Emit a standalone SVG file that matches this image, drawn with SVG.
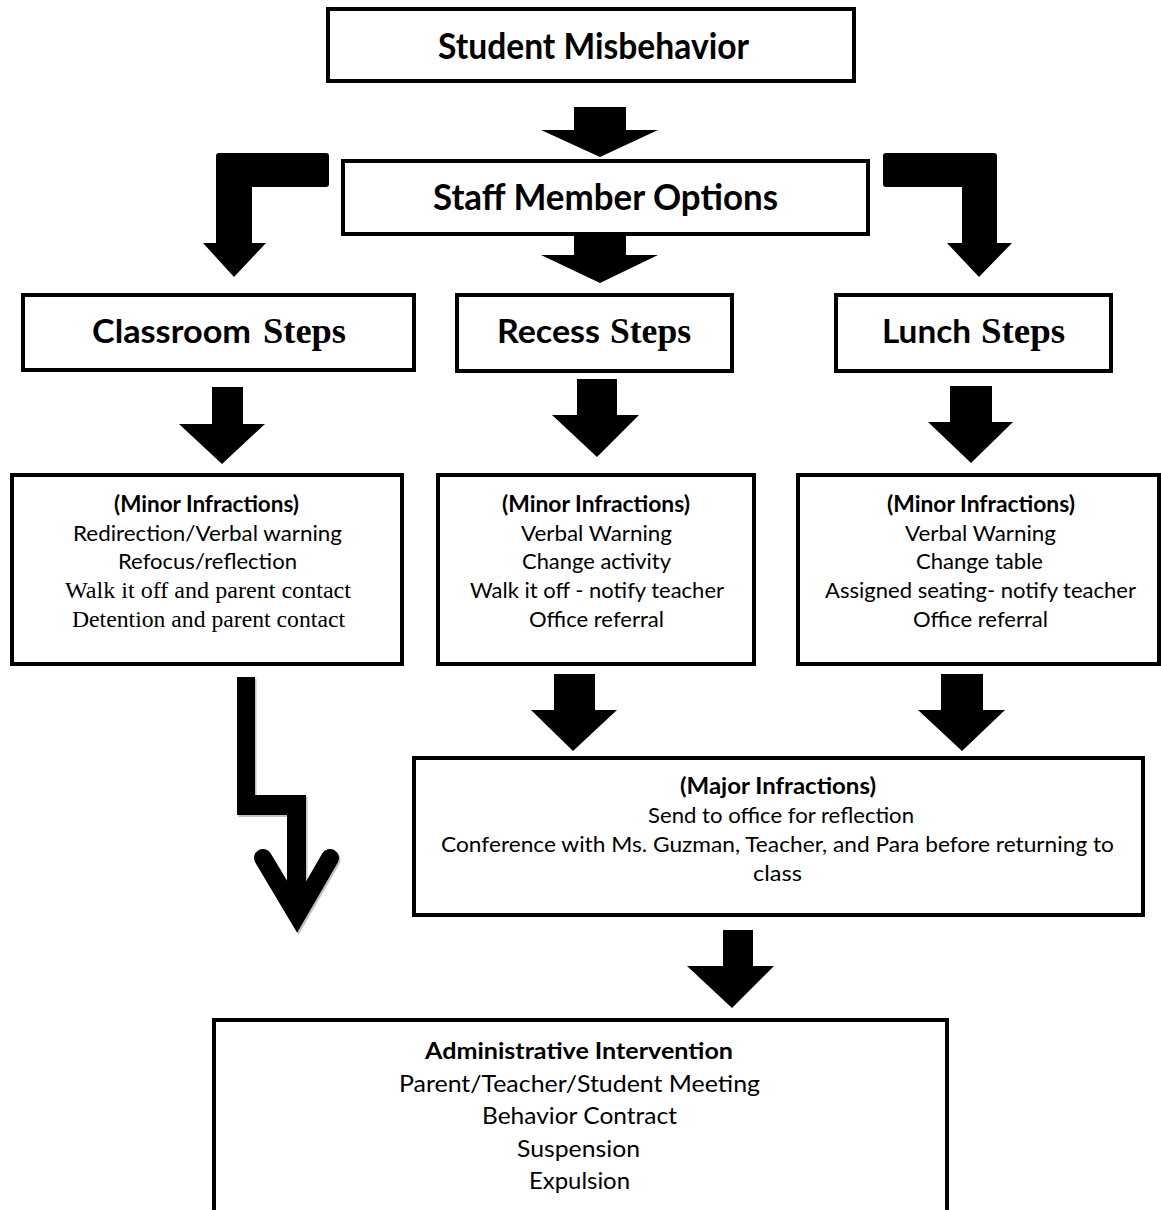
<svg xmlns="http://www.w3.org/2000/svg" width="1161" height="1210" viewBox="0 0 1161 1210">
<style>
.box{fill:#fff;stroke:#000;stroke-width:4}
.arr{fill:#000}
.sans{font-family:Lato,"Liberation Sans",sans-serif;fill:#000}
.serif{font-family:"Liberation Serif",serif;fill:#000}
.b{font-weight:bold}
.h1{font-size:37px}
.h2{font-size:32px}
.h2s{font-size:35px}
.t{font-size:22px}
.ts{font-size:24px}
.t2{font-size:23px}
</style>
<rect width="1161" height="1210" fill="#fff"/>
<g id="connectors">
<path class="arr" d="M574 107 H626 V130 H658 L600 157 L541 130 H574 Z"/>
<path class="arr" d="M574 236 H626 V255 H658 L600 283 L541 255 H574 Z"/>
<path class="arr" d="M219 153 H326 Q329 153 329 156 V184 Q329 187 326 187 H252 V243 H266 L234 277 L203 243 H216 V156 Q216 153 219 153 Z"/>
<path class="arr" d="M886 153 H994 Q997 153 997 156 V243 H1012 L979 277 L947 243 H962 V187 H886 Q883 187 883 184 V156 Q883 153 886 153 Z"/>
<path class="arr" d="M212 387 H243 V424 H265 L222 464 L179 424 H212 Z"/>
<path class="arr" d="M577 379 H617 V415 H639 L597 457 L552 415 H577 Z"/>
<path class="arr" d="M950 386 H992 V422 H1013 L971 463 L928 422 H950 Z"/>
<path class="arr" d="M554 674 H595 V710 H617 L573 751 L531 710 H554 Z"/>
<path class="arr" d="M941 674 H983 V710 H1005 L962 751 L918 710 H941 Z"/>
<path class="arr" d="M723 930 H753 V966 H774 L732 1008 L687 966 H723 Z"/>
<g transform="translate(1.5,2)" opacity="0.45">
<path fill="#777" d="M237 677 H255 V795 H306 V900 H287 V815 H237 Z"/>
<path fill="none" stroke="#777" stroke-width="18" stroke-linecap="round" stroke-linejoin="miter" stroke-miterlimit="10" d="M263 858 L297 915 L330 858"/>
</g>
<path class="arr" d="M237 677 H255 V795 H306 V900 H287 V815 H237 Z"/>
<path fill="none" stroke="#000" stroke-width="18" stroke-linecap="round" stroke-linejoin="miter" stroke-miterlimit="10" d="M263 858 L297 915 L330 858"/>
</g>
<g id="student-misbehavior">
<rect class="box" x="328" y="9" width="526" height="72"/>
<text class="sans b h1" x="438" y="59" textLength="311" lengthAdjust="spacingAndGlyphs">Student Misbehavior</text>
</g>
<g id="staff-member-options">
<rect class="box" x="343" y="161" width="525" height="73"/>
<text class="sans b h1" x="433" y="210" textLength="345" lengthAdjust="spacingAndGlyphs">Staff Member Options</text>
</g>
<g id="classroom-steps">
<rect class="box" x="23" y="295" width="391" height="75"/>
<text y="343"><tspan class="sans b h2" x="92" textLength="159" lengthAdjust="spacingAndGlyphs">Classroom</tspan><tspan class="serif b h2s" x="263" textLength="83" lengthAdjust="spacingAndGlyphs">Steps</tspan></text>
</g>
<g id="recess-steps">
<rect class="box" x="457" y="295" width="275" height="76"/>
<text y="343"><tspan class="sans b h2" x="497" textLength="103" lengthAdjust="spacingAndGlyphs">Recess</tspan><tspan class="serif b h2s" x="610" textLength="81" lengthAdjust="spacingAndGlyphs">Steps</tspan></text>
</g>
<g id="lunch-steps">
<rect class="box" x="836" y="295" width="275" height="76"/>
<text y="343"><tspan class="sans b h2" x="882" textLength="89" lengthAdjust="spacingAndGlyphs">Lunch</tspan><tspan class="serif b h2s" x="981" textLength="84" lengthAdjust="spacingAndGlyphs">Steps</tspan></text>
</g>
<g id="classroom-minor">
<rect class="box" x="12" y="475" width="390" height="189"/>
<text class="sans b t" x="114" y="512" textLength="185" lengthAdjust="spacingAndGlyphs">(Minor Infractions)</text>
<text class="sans t" x="73" y="541" textLength="269" lengthAdjust="spacingAndGlyphs">Redirection/Verbal warning</text>
<text class="sans t" x="118" y="569" textLength="179" lengthAdjust="spacingAndGlyphs">Refocus/reflection</text>
<text class="serif ts" x="65" y="598" textLength="286" lengthAdjust="spacingAndGlyphs">Walk it off and parent contact</text>
<text class="serif ts" x="72" y="627" textLength="273" lengthAdjust="spacingAndGlyphs">Detention and parent contact</text>
</g>
<g id="recess-minor">
<rect class="box" x="438" y="475" width="316" height="189"/>
<text class="sans b t" x="502" y="512" textLength="188" lengthAdjust="spacingAndGlyphs">(Minor Infractions)</text>
<text class="sans t" x="521" y="541" textLength="151" lengthAdjust="spacingAndGlyphs">Verbal Warning</text>
<text class="sans t" x="522" y="569" textLength="149" lengthAdjust="spacingAndGlyphs">Change activity</text>
<text class="sans t" x="470" y="598" textLength="254" lengthAdjust="spacingAndGlyphs">Walk it off - notify teacher</text>
<text class="sans t" x="529" y="627" textLength="135" lengthAdjust="spacingAndGlyphs">Office referral</text>
</g>
<g id="lunch-minor">
<rect class="box" x="798" y="475" width="361" height="189"/>
<text class="sans b t" x="887" y="512" textLength="188" lengthAdjust="spacingAndGlyphs">(Minor Infractions)</text>
<text class="sans t" x="905" y="541" textLength="151" lengthAdjust="spacingAndGlyphs">Verbal Warning</text>
<text class="sans t" x="916" y="569" textLength="127" lengthAdjust="spacingAndGlyphs">Change table</text>
<text class="sans t" x="825" y="598" textLength="311" lengthAdjust="spacingAndGlyphs">Assigned seating- notify teacher</text>
<text class="sans t" x="913" y="627" textLength="135" lengthAdjust="spacingAndGlyphs">Office referral</text>
</g>
<g id="major-infractions">
<rect class="box" x="414" y="758" width="729" height="157"/>
<text class="sans b t" x="680" y="794" textLength="196" lengthAdjust="spacingAndGlyphs">(Major Infractions)</text>
<text class="sans t" x="648" y="823" textLength="266" lengthAdjust="spacingAndGlyphs">Send to office for reflection</text>
<text class="sans t" x="441" y="852" textLength="673" lengthAdjust="spacingAndGlyphs">Conference with Ms. Guzman, Teacher, and Para before returning to</text>
<text class="sans t" x="753" y="881" textLength="49" lengthAdjust="spacingAndGlyphs">class</text>
</g>
<g id="administrative-intervention">
<rect class="box" x="214" y="1020" width="733" height="220"/>
<text class="sans b t2" x="425" y="1059" textLength="308" lengthAdjust="spacingAndGlyphs">Administrative Intervention</text>
<text class="sans t2" x="399" y="1092" textLength="361" lengthAdjust="spacingAndGlyphs">Parent/Teacher/Student Meeting</text>
<text class="sans t2" x="482" y="1124" textLength="195" lengthAdjust="spacingAndGlyphs">Behavior Contract</text>
<text class="sans t2" x="517" y="1157" textLength="123" lengthAdjust="spacingAndGlyphs">Suspension</text>
<text class="sans t2" x="529" y="1189" textLength="101" lengthAdjust="spacingAndGlyphs">Expulsion</text>
</g>
</svg>
